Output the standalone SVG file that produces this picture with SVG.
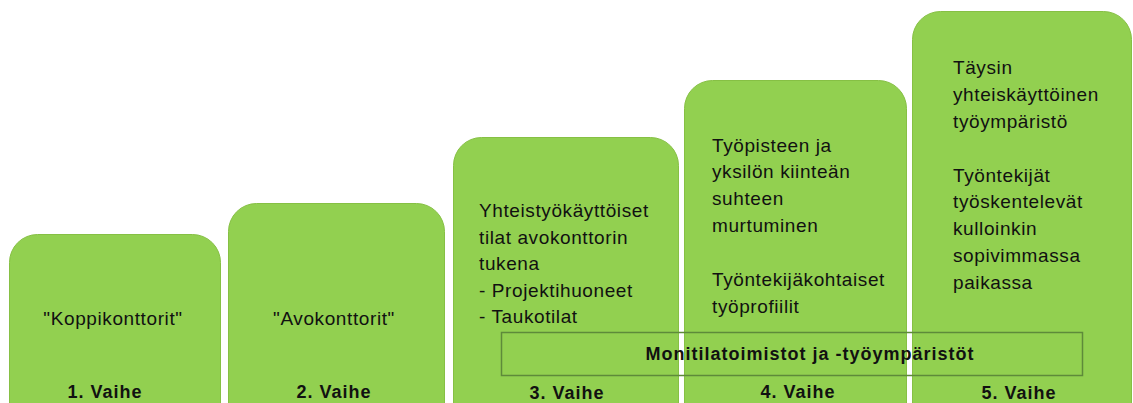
<svg xmlns="http://www.w3.org/2000/svg" width="1133" height="403" viewBox="0 0 1133 403">
<style>
.box{fill:#92D050;stroke:#86C044;stroke-width:1}
.t{font-family:"Liberation Sans",Arial,sans-serif;font-size:19px;fill:#111;letter-spacing:0.6px}
.c{text-anchor:middle}
.lbl{font-family:"Liberation Sans",Arial,sans-serif;font-size:18px;font-weight:bold;fill:#111;letter-spacing:1px;text-anchor:middle}
.band{fill:none;stroke:#5E8A3A;stroke-width:1.5}
</style>
<rect width="1133" height="403" fill="#fff"/>
<g id="vaihe1">
<rect class="box" x="9.5" y="234.5" width="211" height="200" rx="28"/>
<text class="t c" x="113" y="325">"Koppikonttorit"</text>
<text class="lbl" x="105" y="398">1. Vaihe</text>
</g>
<g id="vaihe2">
<rect class="box" x="228.5" y="203.5" width="216" height="230" rx="28"/>
<text class="t c" x="334" y="325">"Avokonttorit"</text>
<text class="lbl" x="334" y="398">2. Vaihe</text>
</g>
<g id="vaihe3">
<rect class="box" x="453.5" y="137.5" width="225" height="300" rx="28"/>
<text class="t" x="479" y="217">Yhteistyökäyttöiset</text>
<text class="t" x="479" y="244">tilat avokonttorin</text>
<text class="t" x="479" y="270">tukena</text>
<text class="t" x="479" y="297">- Projektihuoneet</text>
<text class="t" x="479" y="323">- Taukotilat</text>
<text class="lbl" x="567" y="399">3. Vaihe</text>
</g>
<g id="vaihe4">
<rect class="box" x="684.5" y="80.5" width="222" height="360" rx="28"/>
<text class="t" x="712" y="152">Työpisteen ja</text>
<text class="t" x="712" y="178">yksilön kiinteän</text>
<text class="t" x="712" y="205">suhteen</text>
<text class="t" x="712" y="232">murtuminen</text>
<text class="t" x="712" y="286">Työntekijäkohtaiset</text>
<text class="t" x="712" y="313">työprofiilit</text>
<text class="lbl" x="798" y="398">4. Vaihe</text>
</g>
<g id="vaihe5">
<rect class="box" x="912.5" y="11.5" width="219" height="430" rx="28"/>
<text class="t" x="953" y="74">Täysin</text>
<text class="t" x="953" y="101">yhteiskäyttöinen</text>
<text class="t" x="953" y="128">työympäristö</text>
<text class="t" x="953" y="182">Työntekijät</text>
<text class="t" x="953" y="208">työskentelevät</text>
<text class="t" x="953" y="235">kulloinkin</text>
<text class="t" x="953" y="262">sopivimmassa</text>
<text class="t" x="953" y="289">paikassa</text>
<text class="lbl" x="1019" y="399">5. Vaihe</text>
</g>
<g id="monitila">
<rect class="band" x="501.5" y="332.5" width="581" height="43"/>
<text class="lbl" x="810" y="360">Monitilatoimistot ja -työympäristöt</text>
</g>
<g id="connectors"></g>
</svg>
